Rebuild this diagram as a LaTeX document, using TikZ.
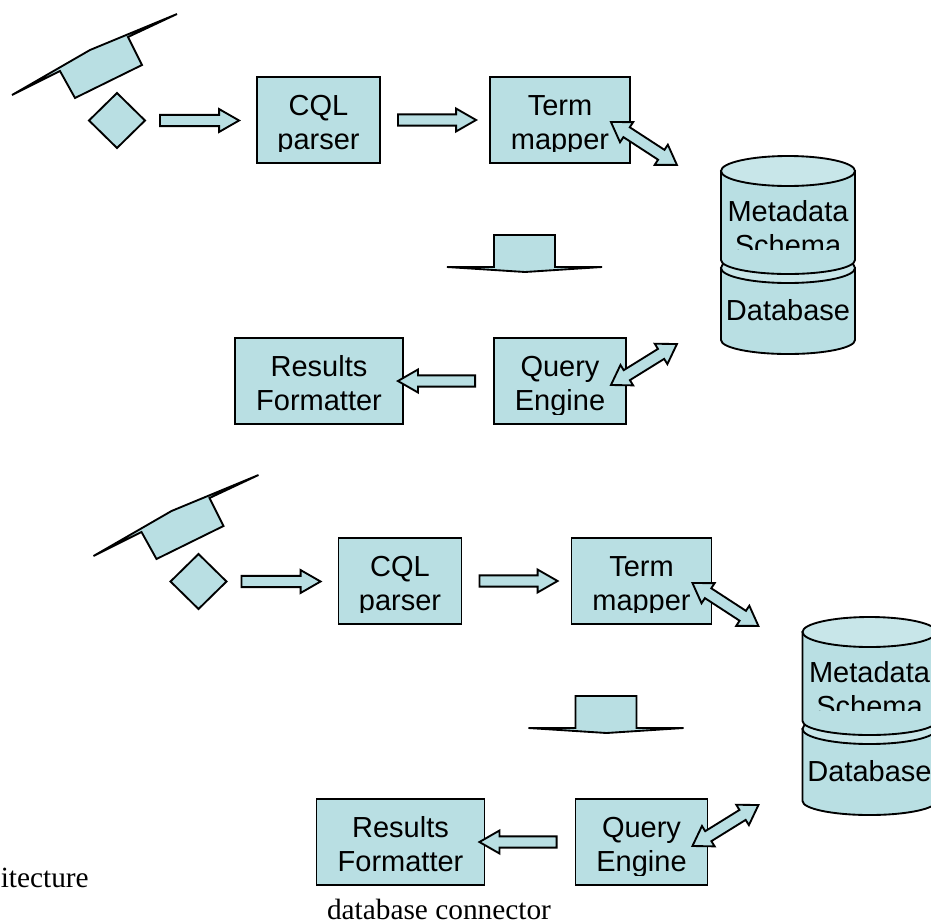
\documentclass[tikz,border=0pt]{standalone}
\usepackage{fontspec}
\setmainfont{Liberation Serif}
\newfontfamily\arialfont{Liberation Sans}
\usetikzlibrary{calc}
\definecolor{boxfill}{HTML}{B9DFE3}
\definecolor{toplight}{HTML}{C8E6E9}
\tikzset{
  x=.75pt,y=.75pt,
  ink/.style={draw=black,line width=1.4pt,line join=miter,fill=boxfill},
  labelbox/.style={ink,inner sep=0pt},
  dbtext/.style={inner sep=0pt,align=center,font=\arialfont\fontsize{21.75}{25.5}\selectfont},
  twolines/.style={dbtext,text height=44.3pt,text depth=0pt},
  plaintext/.style={inner sep=0pt,font=\fontsize{22}{26}\selectfont}
}
% single block arrow from #1 to #2 (lengths in pt)
\newcommand\blockarrow[2]{%
  \path let \p1=($(#2)-(#1)$),\n1={atan2(\y1,\x1)},\n2={veclen(\x1,\y1)} in
    [draw=black,line width=1.4pt,fill=boxfill,shift={(#1)},rotate=\n1]
    (0pt,-4.2pt)--(\n2-15pt,-4.2pt)--(\n2-15pt,-8.6pt)--(\n2,0pt)--(\n2-15pt,8.6pt)--(\n2-15pt,4.2pt)--(0pt,4.2pt)--cycle;}
% double block arrow between #1 and #2
\newcommand\dblarrow[2]{%
  \path let \p1=($(#2)-(#1)$),\n1={atan2(\y1,\x1)},\n2={veclen(\x1,\y1)} in
    [draw=black,line width=1.4pt,fill=boxfill,shift={(#1)},rotate=\n1]
    (0pt,0pt)--(14pt,-9pt)--(14pt,-4.4pt)--(\n2-14pt,-4.4pt)--(\n2-14pt,-9pt)--(\n2,0pt)--(\n2-14pt,9pt)--(\n2-14pt,4.4pt)--(14pt,4.4pt)--(14pt,9pt)--cycle;}
% cylinder body from y=#1 to y=#2
\newcommand\drum[2]{%
  \path[ink] (721,#1) -- (721,#2) arc[start angle=180,end angle=360,x radius=67,y radius=14] -- (855,#1) -- cycle;
  \path[ink,fill=toplight] (788,#1) ellipse[x radius=67,y radius=15];}
% two-line label inside box #1, descenders cut #4 px below the baseline
\newcommand\boxtext[4]{%
  \begin{scope}
    \clip ($(#1.center)+(-90,43)$) rectangle ($(#1.center)+(90,-29.5-#4)$);
    \node[twolines] (#1-text) at (#1.center) {#2\\#3};
  \end{scope}}
\newcommand\stage[1]{%
\begin{scope}[shift={#1}]
  \path[ink] (12,-95)--(60,-71)--(75,-98)--(142,-65)--(128,-37)--(177,-14)--(90,-50)--cycle;
  \path[ink] (117,-93)--(145,-120.5)--(117,-148)--(89,-120.5)--cycle;
  \coordinate (in) at (160,-120.5);
  \node[labelbox,minimum width=92.25pt,minimum height=64.5pt] (cql) at (318.5,-120) {};
  \node[labelbox,minimum width=105pt,minimum height=64.5pt] (term) at (560,-120) {};
  \node[labelbox,minimum width=126pt,minimum height=64.5pt] (results) at (319,-381) {};
  \node[labelbox,minimum width=99pt,minimum height=64.5pt] (query) at (560,-381) {};
  \boxtext{cql}{CQL}{parser}{2}
  \boxtext{term}{Term}{mapper}{2}
  \boxtext{results}{Results}{Formatter}{4}
  \boxtext{query}{Query}{Engine}{4}
  \blockarrow{in}{$(cql.west)+(-17,-.5)$}
  \blockarrow{$(cql.east)+(17,0)$}{$(term.west)+(-13,0)$}
  \blockarrow{$(query.west)+(-18,0)$}{$(results.east)+(-6,0)$}
  \coordinate (dbupper) at (677,-165);
  \coordinate (dblower) at (677,-344);
  \dblarrow{$(term.east)+(-20,-2)$}{dbupper}
  \dblarrow{$(query.east)+(-16,-4)$}{dblower}
  \path[ink] (494,-235)--(555,-235)--(555,-267)--(602,-267)--(525,-272)--(447,-267)--(494,-267)--cycle;
  \drum{-268}{-340}
  \node[dbtext] (db) at (788,-310) {Database};
  \drum{-171}{-260}
  \begin{scope}
    \clip (721,-190) rectangle (855,-249);
    \node[twolines] (meta) at (788,-225.5) {Metadata\\Schema};
  \end{scope}
\end{scope}}
\begin{document}
\begin{tikzpicture}
\clip (0,0) rectangle (931,-921);
\stage{(0,0)}
\stage{(81.5,-461)}
\node[plaintext,anchor=base east] (arch) at (89,-887) {itecture};
\node[plaintext,anchor=base] (conn) at (439,-919) {database connector};
\end{tikzpicture}
\end{document}
